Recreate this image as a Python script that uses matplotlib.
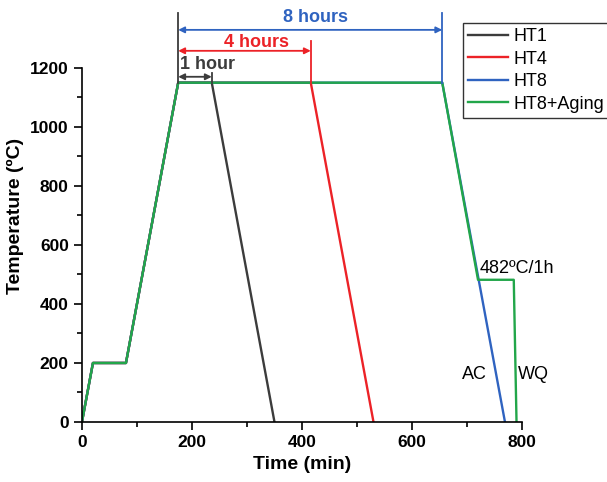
import matplotlib.pyplot as plt

plt.rcParams['font.family'] = ['Liberation Sans', 'DejaVu Sans']

# heat treatment schedules (time in min, temperature in C)
ht1_t = [0, 20, 80, 175, 236, 350]
ht1_T = [0, 200, 200, 1150, 1150, 0]
ht4_t = [0, 20, 80, 175, 416, 530]
ht4_T = [0, 200, 200, 1150, 1150, 0]
ht8_t = [0, 20, 80, 175, 655, 769]
ht8_T = [0, 200, 200, 1150, 1150, 0]
aging_t = [0, 20, 80, 175, 655, 720, 785, 790]
aging_T = [0, 200, 200, 1150, 1150, 482, 482, 0]

labels = ['HT1', 'HT4', 'HT8', 'HT8+Aging']
colors = ['#3c3c3c', '#ec2227', '#2f63c0', '#22a64a']

fig = plt.figure(figsize=(6.07, 4.82), dpi=100)
ax = fig.add_axes([0.135, 0.1245, 0.725, 0.857])

ax.plot(ht1_t, ht1_T, color=colors[0], lw=1.7, label=labels[0])
ax.plot(ht4_t, ht4_T, color=colors[1], lw=1.7, label=labels[1])
ax.plot(ht8_t, ht8_T, color=colors[2], lw=1.7, label=labels[2])
ax.plot(aging_t, aging_T, color=colors[3], lw=1.7, label=labels[3])

# holding time markers
ax.plot([175, 175], [1150, 1385], color=colors[0], lw=1.3)
ax.plot([236, 236], [1150, 1183], color=colors[0], lw=1.3)
ax.plot([416, 416], [1150, 1290], color=colors[1], lw=1.3)
ax.plot([655, 655], [1150, 1385], color=colors[2], lw=1.3)

arrows = [(236, 1170, colors[0]), (416, 1258, colors[1]), (655, 1329, colors[2])]
for x_end, y, c in arrows:
    ax.annotate('', xy=(x_end, y), xytext=(175, y),
                arrowprops=dict(arrowstyle='<|-|>', color=c, lw=1.3,
                                mutation_scale=9, shrinkA=0, shrinkB=0))

ax.text(178, 1210, '1 hour', color=colors[0], fontsize=13, fontweight='bold',
        ha='left', va='center')
ax.text(318, 1285, '4 hours', color=colors[1], fontsize=13, fontweight='bold',
        ha='center', va='center')
ax.text(424, 1370, '8 hours', color=colors[2], fontsize=13, fontweight='bold',
        ha='center', va='center')

ax.text(723, 520, '482ºC/1h', fontsize=13, ha='left', va='center')
ax.text(690, 160, 'AC', fontsize=13, ha='left', va='center')
ax.text(793, 160, 'WQ', fontsize=13, ha='left', va='center')

ax.set_xlim(0, 800)
ax.set_ylim(0, 1400)
ax.set_xticks([0, 200, 400, 600, 800])
ax.set_xticks([100, 300, 500, 700], minor=True)
ax.set_yticks([0, 200, 400, 600, 800, 1000, 1200])
ax.set_yticks([100, 300, 500, 700, 900, 1100], minor=True)
ax.spines['top'].set_visible(False)
ax.spines['right'].set_visible(False)
ax.spines['left'].set_bounds(0, 1200)
ax.spines['bottom'].set_bounds(0, 800)
ax.spines['left'].set_linewidth(1.2)
ax.spines['bottom'].set_linewidth(1.2)
ax.tick_params(which='major', length=6, width=1.2, labelsize=12.5)
ax.tick_params(which='minor', length=3.5, width=1.2)
for lab in ax.get_xticklabels() + ax.get_yticklabels():
    lab.set_fontweight('bold')

ax.set_xlabel('Time (min)', fontsize=14, fontweight='bold')
ax.set_ylabel('Temperature (ºC)', fontsize=14, fontweight='bold')

leg = ax.legend(loc='upper left', bbox_to_anchor=(0.866, 0.966), fontsize=13,
                frameon=True, fancybox=False, edgecolor='black',
                handlelength=2.2, borderaxespad=0, labelspacing=0.3,
                handletextpad=0.3, borderpad=0.3)
leg.get_frame().set_linewidth(1.0)

fig.savefig('out.png', dpi=100)
